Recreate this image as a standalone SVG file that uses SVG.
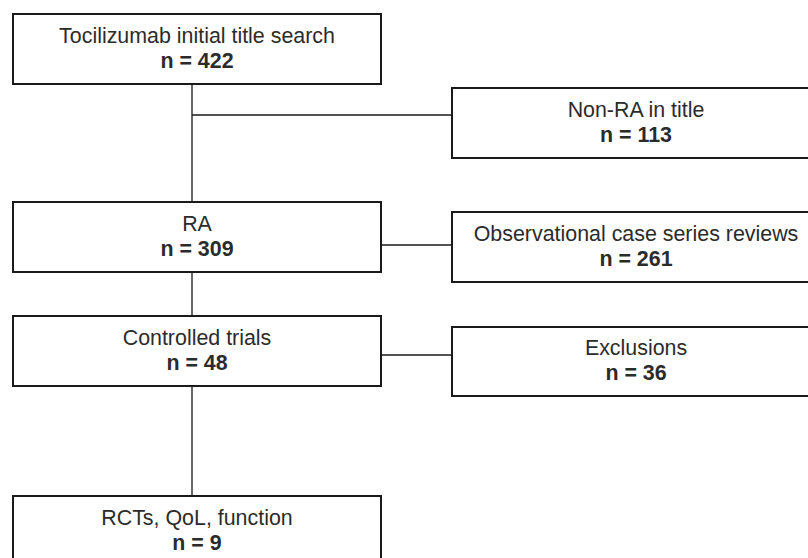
<svg xmlns="http://www.w3.org/2000/svg" width="808" height="558" viewBox="0 0 808 558">
<style>
.box{fill:#fff;stroke:#1a1a1a;stroke-width:2}
.t{font-family:"Liberation Sans",Arial,sans-serif;font-size:21.4px;fill:#2b2b2b;text-anchor:middle}
.b{font-weight:bold}
.c{stroke:#1a1a1a;stroke-width:1.3;fill:none}
</style>
<rect width="808" height="558" fill="#fff"/>
<g id="connectors">
<path class="c" d="M192 84V202M192 115H452M381 245H452M192 272V316M381 355H452M192 386V496"/>
</g>
<g id="n1"><rect class="box" x="13" y="14" width="368" height="70"/><text class="t" x="197" y="43">Tocilizumab initial title search</text><text class="t b" x="197" y="68">n = 422</text></g>
<g id="n2"><rect class="box" x="452" y="88" width="368" height="70"/><text class="t" x="636" y="117">Non-RA in title</text><text class="t b" x="636" y="142">n = 113</text></g>
<g id="n3"><rect class="box" x="13" y="202" width="368" height="70"/><text class="t" x="197" y="231">RA</text><text class="t b" x="197" y="256">n = 309</text></g>
<g id="n4"><rect class="box" x="452" y="212" width="368" height="70"/><text class="t" x="636" y="241">Observational case series reviews</text><text class="t b" x="636" y="266">n = 261</text></g>
<g id="n5"><rect class="box" x="13" y="316" width="368" height="70"/><text class="t" x="197" y="345">Controlled trials</text><text class="t b" x="197" y="370">n = 48</text></g>
<g id="n6"><rect class="box" x="452" y="327" width="368" height="69"/><text class="t" x="636" y="355">Exclusions</text><text class="t b" x="636" y="380">n = 36</text></g>
<g id="n7"><rect class="box" x="13" y="496" width="368" height="70"/><text class="t" x="197" y="525">RCTs, QoL, function</text><text class="t b" x="197" y="550">n = 9</text></g>
</svg>
